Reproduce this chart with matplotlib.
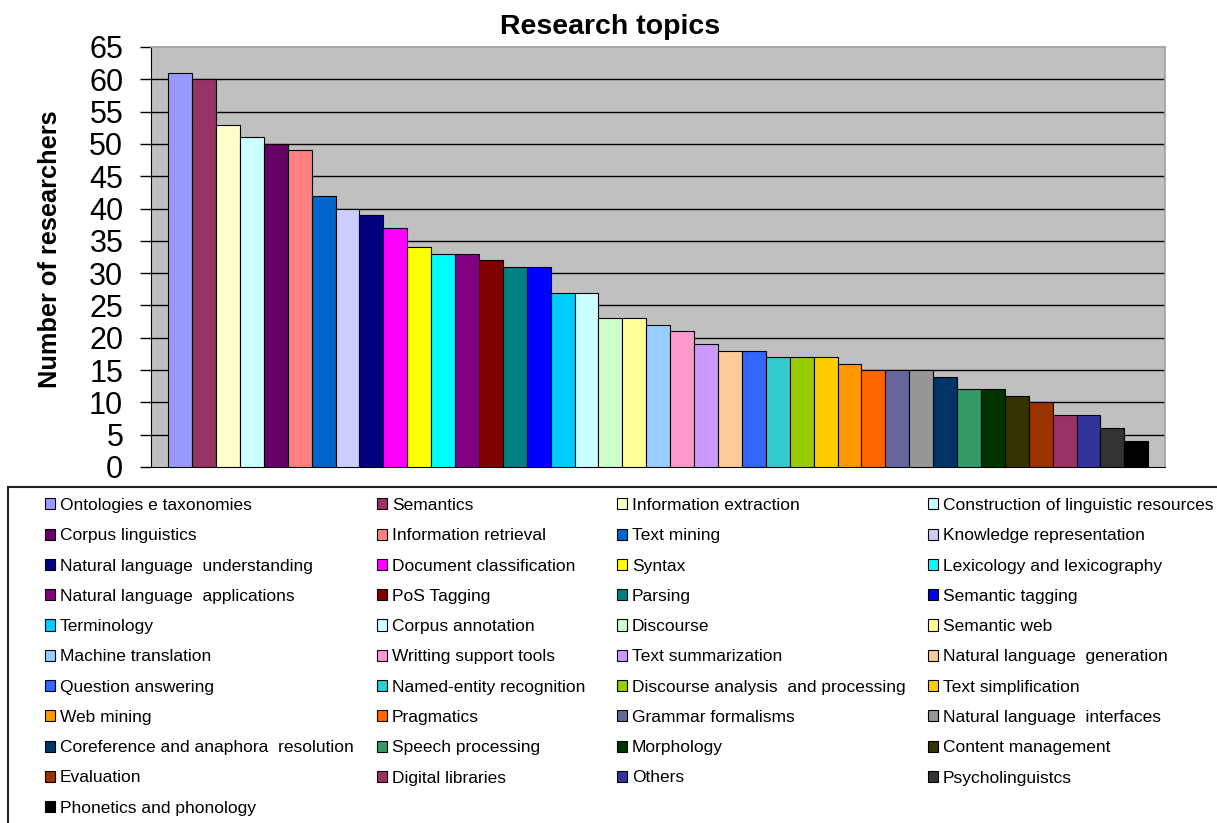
import matplotlib
matplotlib.use("Agg")
import matplotlib.pyplot as plt
from matplotlib.patches import Rectangle

plt.rcParams["font.family"] = ["Liberation Sans", "DejaVu Sans"]

topics = [
    "Ontologies e taxonomies", "Semantics", "Information extraction",
    "Construction of linguistic resources", "Corpus linguistics",
    "Information retrieval", "Text mining", "Knowledge representation",
    "Natural language  understanding", "Document classification", "Syntax",
    "Lexicology and lexicography", "Natural language  applications",
    "PoS Tagging", "Parsing", "Semantic tagging", "Terminology",
    "Corpus annotation", "Discourse", "Semantic web", "Machine translation",
    "Writting support tools", "Text summarization",
    "Natural language  generation", "Question answering",
    "Named-entity recognition", "Discourse analysis  and processing",
    "Text simplification", "Web mining", "Pragmatics", "Grammar formalisms",
    "Natural language  interfaces", "Coreference and anaphora  resolution",
    "Speech processing", "Morphology", "Content management", "Evaluation",
    "Digital libraries", "Others", "Psycholinguistcs", "Phonetics and phonology",
]
researchers = [61, 60, 53, 51, 50, 49, 42, 40, 39, 37, 34, 33, 33, 32, 31, 31,
               27, 27, 23, 23, 22, 21, 19, 18, 18, 17, 17, 17, 16, 15, 15, 15,
               14, 12, 12, 11, 10, 8, 8, 6, 4]
colors = [
    "#9999FF", "#993366", "#FFFFCC", "#CCFFFF", "#660066", "#FF8080",
    "#0066CC", "#CCCCFF", "#000080", "#FF00FF", "#FFFF00", "#00FFFF",
    "#800080", "#800000", "#008080", "#0000FF", "#00CCFF", "#CCFFFF",
    "#CCFFCC", "#FFFF99", "#99CCFF", "#FF99CC", "#CC99FF", "#FFCC99",
    "#3366FF", "#33CCCC", "#99CC00", "#FFCC00", "#FF9900", "#FF6600",
    "#666699", "#969696", "#003366", "#339966", "#003300", "#333300",
    "#993300", "#993366", "#333399", "#333333", "#000000",
]
yticks = list(range(0, 70, 5))

W, H = 1217, 823
fig = plt.figure(figsize=(W / 100, H / 100), dpi=100)
ax = fig.add_axes([151 / W, 1 - 467 / H, (1165 - 151) / W, (467 - 47) / H])
ax.set_facecolor("#C0C0C0")

x = list(range(len(topics)))
bars = ax.bar(x, researchers, width=1.0, color=colors, edgecolor="black",
              linewidth=0.8, zorder=3)
for t in yticks[1:-1]:
    ax.axhline(t, color="black", linewidth=1.0, zorder=1)

ax.set_xlim(-1.22, len(topics) - 1 + 1.2)
ax.set_ylim(0, 65)
ax.set_yticks(yticks)
ax.set_xticks([])
ax.tick_params(axis="y", length=8, width=1.0, pad=12, labelsize=22)
for s in ["top", "right"]:
    ax.spines[s].set_color("#A0A0A0")
    ax.spines[s].set_linewidth(1.2)
ax.spines["left"].set_color("black")
ax.spines["bottom"].set_color("black")

fig.text(610 / W, 1 - 27 / H, "Research topics", ha="center", va="center",
         fontsize=20.5, fontweight="bold")
fig.text(50 / W, 1 - 249 / H, "Number of researchers", ha="center",
         va="center", rotation=90, fontsize=18.3, fontweight="bold")

# legend frame, cut off at right and bottom like the source
fig.patches.append(Rectangle((7.5 / W, -0.02), 1.05, 1 - 487 / H + 0.02,
                             transform=fig.transFigure, fill=False,
                             edgecolor="#222222", linewidth=1.5))

# one legend per column so that entries read row by row
ncol = 4
col_x = [45, 377, 617, 928]
for c in range(ncol):
    idx = list(range(c, len(topics), ncol))
    handles = [Rectangle((0, 0), 1, 1, facecolor=colors[i], edgecolor="black",
                         linewidth=0.8) for i in idx]
    labels = [topics[i] for i in idx]
    fig.legend(handles, labels, ncol=1, loc="upper left",
               bbox_to_anchor=(col_x[c] / W, 1 - 498 / H), frameon=False,
               fontsize=12.5, borderpad=0, borderaxespad=0,
               handlelength=0.6, handleheight=0.6, handletextpad=0.25,
               labelspacing=0.88)

fig.savefig("out.png", dpi=100)
